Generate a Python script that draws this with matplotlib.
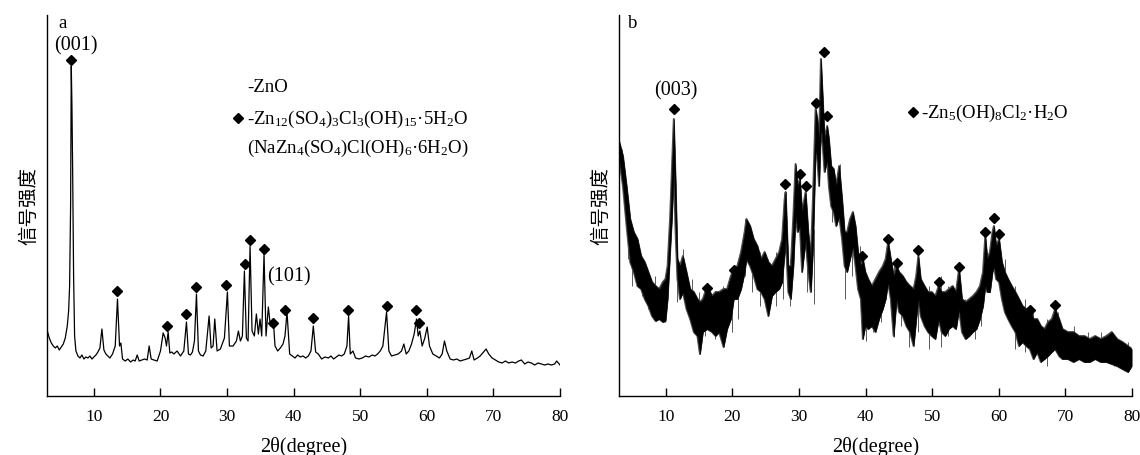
import numpy as np
import matplotlib
matplotlib.use("Agg")
import matplotlib.pyplot as plt

plt.rcParams['font.family'] = ['Liberation Serif', 'DejaVu Serif']
plt.rcParams['mathtext.fontset'] = 'custom'
plt.rcParams['mathtext.rm'] = 'Liberation Serif'
plt.rcParams['mathtext.it'] = 'Liberation Serif'

# ---------------- Panel a data (2theta, intensity a.u.) ----------------
a_x = [3.0, 3.3, 3.6, 3.9, 4.2, 4.5, 4.8, 5.1, 5.4, 5.7, 6.0, 6.2, 6.35, 6.5, 6.6, 6.7, 6.8, 6.95, 7.1, 7.3,
       7.6, 7.9, 8.2, 8.5, 8.8, 9.1, 9.4, 9.7, 10.0, 10.3, 10.6, 10.9, 11.2, 11.5, 11.8, 12.1, 12.4, 12.8, 13.2,
       13.54, 13.85, 14.05, 14.3, 14.7, 15.1, 15.5, 15.9, 16.2, 16.5, 16.8, 17.2, 17.6, 18.0, 18.3, 18.6, 19.0,
       19.5, 20.0, 20.4, 20.7, 20.9, 21.15, 21.4, 21.7, 22.0, 22.5, 23.0, 23.5, 23.9, 24.2, 24.5, 24.8, 25.1,
       25.4, 25.7, 26.0, 26.4, 26.8, 27.3, 27.6, 27.9, 28.15, 28.5, 29.0, 29.6, 30.05, 30.35, 30.9, 31.4, 31.7,
       32.0, 32.3, 32.6, 32.9, 33.15, 33.45, 33.75, 34.1, 34.4, 34.7, 34.95, 35.2, 35.55, 35.85, 36.2, 36.5,
       36.95, 37.2, 37.6, 38.0, 38.4, 38.7, 39.0, 39.4, 39.8, 40.2, 40.6, 41.0, 41.4, 41.8, 42.2, 42.6, 42.95,
       43.3, 43.7, 44.2, 44.7, 45.2, 45.6, 46.0, 46.4, 46.8, 47.2, 47.6, 48.0, 48.25, 48.5, 48.9, 49.3, 49.8,
       50.3, 50.8, 51.3, 51.8, 52.2, 52.6, 53.0, 53.4, 53.95, 54.3, 54.7, 55.2, 55.7, 56.2, 56.55, 56.9, 57.3,
       57.7, 58.1, 58.45, 58.7, 58.95, 59.3, 59.7, 60.05, 60.4, 60.9, 61.4, 61.9, 62.3, 62.65, 63.0, 63.5,
       64.0, 64.5, 65.0, 65.5, 66.0, 66.4, 66.75, 67.1, 67.6, 68.0, 68.4, 68.9, 69.3, 69.8, 70.3, 70.8, 71.3,
       71.8, 72.3, 72.8, 73.3, 73.8, 74.2, 74.7, 75.2, 75.7, 76.2, 76.7, 77.2, 77.7, 78.2, 78.7, 79.2, 79.5, 80.0]
a_y = [65, 58, 53, 50, 48, 50, 46, 49, 52, 58, 70, 85, 110, 190, 330, 290, 230, 120, 60, 45,
       40, 38, 41, 37, 39, 38, 40, 37, 39, 41, 44, 48, 67, 46, 42, 40, 38, 42, 50,
       97, 50, 53, 37, 35, 37, 34, 36, 35, 41, 35, 36, 37, 36, 50, 37, 36,
       35, 45, 63, 58, 50, 64, 43, 44, 42, 45, 40, 45, 74, 42, 41, 44, 55,
       102, 45, 41, 40, 45, 80, 48, 50, 77, 45, 47, 58, 104, 50, 50, 55, 65,
       55, 60, 125, 58, 55, 150, 65, 60, 82, 62, 77, 60, 142, 60, 89, 70,
       75, 50, 45, 48, 52, 60, 84, 42, 40, 38, 41, 39, 40, 38, 40, 45, 70,
       44, 42, 37, 39, 38, 40, 37, 39, 41, 40, 42, 50, 80, 42, 45, 38, 37,
       38, 40, 39, 41, 40, 42, 45, 50, 84, 45, 40, 41, 42, 45, 52, 42, 45,
       52, 62, 77, 60, 65, 50, 58, 69, 50, 42, 40, 38, 42, 55, 45, 37,
       36, 37, 35, 36, 37, 38, 45, 36, 38, 40, 43, 47, 42, 38, 36, 34, 33,
       35, 33, 34, 33, 35, 36, 32, 34, 33, 31, 33, 32, 31, 32, 31, 32, 35, 31]

a_dx = [6.6, 13.54, 21.02, 23.86, 25.39, 29.87, 32.66, 33.47, 35.6, 36.97, 38.66, 42.87, 48.22, 53.95, 58.43, 58.87]
a_dy = [336, 105, 70, 82, 109, 111, 132, 156, 147, 73, 86, 78, 86, 90, 86, 73]

# ---------------- Panel b data (noisy band: upper / lower envelope) ----------------
b_x = [3.0, 3.55, 4.1, 4.64, 5.18, 5.73, 6.28, 6.82, 7.37, 7.92, 8.46, 9.0, 9.55, 9.94, 10.26, 10.65, 10.92,
       11.19, 11.46, 11.74, 12.12, 12.56, 13.1, 13.65, 14.2, 14.74, 15.12, 15.56, 16.22, 16.93, 17.47, 18.0,
       18.67, 19.2, 19.77, 20.2, 20.75, 21.3, 21.84, 22.1, 22.66, 23.2, 23.75, 24.3, 24.84, 25.4, 25.94, 26.48,
       27.03, 27.47, 27.85, 28.0, 28.4, 28.78, 29.16, 29.49, 29.8, 30.14, 30.47, 31.0, 31.4, 31.78, 32.1, 32.5,
       32.76, 33.03, 33.3, 33.58, 33.85, 34.24, 34.5, 34.84, 35.22, 35.6, 36.04, 36.48, 36.86, 37.24, 37.68,
       38.1, 38.5, 38.88, 39.3, 39.6, 39.97, 40.4, 40.95, 41.5, 42.04, 42.6, 43.03, 43.4, 43.8, 44.23, 44.67,
       45.05, 45.6, 46.14, 46.69, 47.23, 47.62, 47.94, 48.3, 48.87, 49.4, 49.96, 50.5, 51.0, 51.44, 51.99,
       52.53, 53.08, 53.6, 54.06, 54.5, 55.04, 55.6, 56.13, 56.68, 57.2, 57.66, 58.0, 58.3, 58.7, 59.08, 59.3,
       59.63, 60.07, 60.5, 60.94, 61.43, 61.98, 62.52, 63.07, 63.6, 64.16, 64.7, 65.25, 65.8, 66.35, 66.9,
       67.44, 68.0, 68.5, 69.1, 69.6, 70.4, 71.26, 72.08, 72.9, 73.7, 74.5, 75.35, 76.2, 77.0, 77.8, 78.6,
       79.45, 80.0]
b_hi = [254, 240, 210, 177, 164, 157, 140, 134, 124, 114, 110, 107, 114, 117, 130, 180, 230,
        277, 214, 137, 130, 140, 124, 107, 104, 97, 94, 97, 110, 100, 104, 104,
        107, 107, 120, 127, 130, 144, 164, 177, 170, 157, 150, 137, 144, 134, 130, 137,
        144, 157, 197, 204, 130, 130, 180, 232, 210, 217, 184, 204, 164, 137, 197, 287,
        277, 254, 337, 297, 257, 270, 257, 230, 227, 210, 230, 197, 164, 164, 177,
        184, 170, 144, 130, 137, 124, 117, 110, 117, 124, 130, 137, 154, 137, 120, 130,
        124, 120, 114, 110, 107, 120, 140, 117, 110, 104, 104, 100, 110, 104, 104,
        107, 110, 104, 127, 97, 94, 97, 100, 104, 110, 124, 160, 137, 144, 164, 170,
        150, 157, 134, 124, 117, 110, 104, 97, 90, 87, 87, 77, 77, 70, 67,
        74, 77, 87, 77, 67, 64, 64, 60, 60, 57, 60, 57, 60, 64, 57, 54,
        50, 47]
b_lo = [237, 210, 170, 134, 124, 110, 107, 97, 90, 80, 75, 77, 74, 75, 97, 147, 180,
        230, 164, 117, 97, 104, 87, 77, 64, 60, 42, 64, 67, 64, 60, 64,
        49, 67, 77, 97, 97, 107, 124, 137, 130, 120, 107, 104, 97, 80, 100, 104,
        107, 114, 144, 160, 104, 97, 130, 180, 164, 170, 124, 157, 124, 104, 147, 247,
        237, 210, 270, 250, 224, 237, 210, 190, 184, 170, 180, 157, 130, 124, 137,
        150, 130, 107, 97, 57, 70, 67, 70, 64, 77, 87, 97, 114, 97, 60, 97,
        84, 80, 70, 64, 50, 77, 97, 80, 70, 64, 60, 57, 77, 64, 60,
        67, 70, 67, 87, 64, 57, 60, 64, 67, 77, 90, 110, 104, 104, 124, 130,
        117, 114, 97, 84, 77, 70, 64, 50, 54, 50, 47, 37, 44, 34, 37,
        40, 44, 47, 40, 37, 37, 34, 37, 34, 34, 37, 34, 34, 32, 30, 27,
        24, 30]

# thin noise spikes sticking out of the band (position, top, bottom)
b_sx = [3.35, 4.35, 4.85, 5.35, 6.35, 7.35, 8.35, 9.85, 11.6, 12.6, 13.9, 15.0, 15.9, 17.4, 18.6, 19.9,
        20.9, 21.9, 22.9, 24.1, 25.4, 26.6, 27.6, 28.6, 31.2, 32.3, 34.9, 36.1, 36.9, 37.9, 39.1, 40.0,
        41.1, 42.4, 44.3, 45.4, 46.5, 47.9, 49.5, 51.3, 52.4, 54.9, 56.4, 57.4, 60.9, 62.4, 63.9, 65.2,
        67.2, 68.9, 71.4, 73.4, 75.4, 77.4, 79.4]
b_stop = [247, 184, 167, 150, 137, 117, 120, 117, 150, 147, 117, 104, 104, 104, 110, 124,
          130, 177, 160, 144, 137, 144, 160, 137, 184, 167, 224, 232, 160, 177, 150, 117,
          110, 117, 130, 120, 110, 124, 110, 120, 110, 97, 104, 110, 137, 110, 97, 84,
          77, 84, 70, 64, 64, 60, 54]
b_sbot = [210, 137, 110, 120, 100, 87, 77, 74, 94, 104, 70, 42, 60, 57, 49, 64,
          77, 120, 104, 90, 80, 90, 97, 90, 104, 92, 174, 167, 97, 120, 110, 55,
          64, 74, 59, 70, 49, 64, 47, 49, 60, 64, 57, 70, 90, 47, 44, 37,
          30, 44, 37, 34, 37, 30, 27]

b_dx = [11.19, 16.22, 20.2, 27.9, 30.14, 31.0, 32.49, 33.69, 34.24, 39.42, 43.41, 44.78, 47.89, 51.0,
        54.06, 58.0, 59.26, 60.07, 64.71, 68.53]
b_dy = [287, 108, 126, 212, 222, 210, 293, 344, 280, 140, 157, 133, 146, 114, 129, 164, 178, 162, 86, 91]

xticks = [10, 20, 30, 40, 50, 60, 70, 80]

fig = plt.figure(figsize=(11.4, 4.56), dpi=100)
axa = fig.add_axes([47.3 / 1140, 59 / 456, 512.7 / 1140, 381 / 456])
axb = fig.add_axes([619.3 / 1140, 59 / 456, 512.4 / 1140, 381 / 456])

for ax in (axa, axb):
    ax.set_xlim(3, 80)
    ax.set_ylim(0, 381)
    for s in ('top', 'right'):
        ax.spines[s].set_visible(False)
    for s in ('left', 'bottom'):
        ax.spines[s].set_linewidth(1.0)
    ax.set_yticks([])
    ax.set_xticks(xticks)
    ax.tick_params(axis='x', direction='in', length=6, width=1.0, labelsize=12.5, pad=9)
    ax.set_xlabel('2θ(degree)', fontsize=14.5, labelpad=8)
    ax.set_ylabel('信号强度', fontsize=14, family=['Noto Sans CJK SC', 'DejaVu Sans'], labelpad=6)

# panel a
axa.plot(a_x, a_y, color='black', lw=0.9)
axa.plot(a_dx, a_dy, 'D', color='black', ms=5.5, mec='black')
axa.text(5.3, 374, 'a', fontsize=13.5, ha='center', va='center')
axa.text(7.3, 351, '(001)', fontsize=14.5, ha='center', va='center')
axa.text(39.3, 120, '(101)', fontsize=14.5, ha='center', va='center')
axa.text(33.0, 310, '-ZnO', fontsize=13.5, ha='left', va='center')
axa.plot([31.7], [278], 'D', color='black', ms=5)
axa.text(33.0, 278, '-Zn$_{12}$(SO$_4$)$_3$Cl$_3$(OH)$_{15}$·5H$_2$O', fontsize=13.5, ha='left', va='center')
axa.text(33.0, 249, '(NaZn$_4$(SO$_4$)Cl(OH)$_6$·6H$_2$O)', fontsize=13.5, ha='left', va='center')

# panel b
axb.vlines(b_sx, b_sbot, b_stop, color='0.35', lw=0.7, zorder=1)
axb.plot(b_x, b_hi, color='0.3', lw=1.4, zorder=1.5)
axb.plot(b_x, b_lo, color='0.3', lw=1.4, zorder=1.5)
axb.fill_between(b_x, b_lo, b_hi, color='black', lw=0.3, edgecolor='black', zorder=2)
axb.plot(b_dx, b_dy, 'D', color='black', ms=5.5, zorder=3)
axb.text(5.0, 373, 'b', fontsize=13.5, ha='center', va='center')
axb.text(11.46, 306, '(003)', fontsize=14.5, ha='center', va='center')
axb.plot([47.2], [284], 'D', color='black', ms=5)
axb.text(48.3, 284, '-Zn$_5$(OH)$_8$Cl$_2$·H$_2$O', fontsize=13.5, ha='left', va='center')

fig.savefig('out.png', dpi=100)
